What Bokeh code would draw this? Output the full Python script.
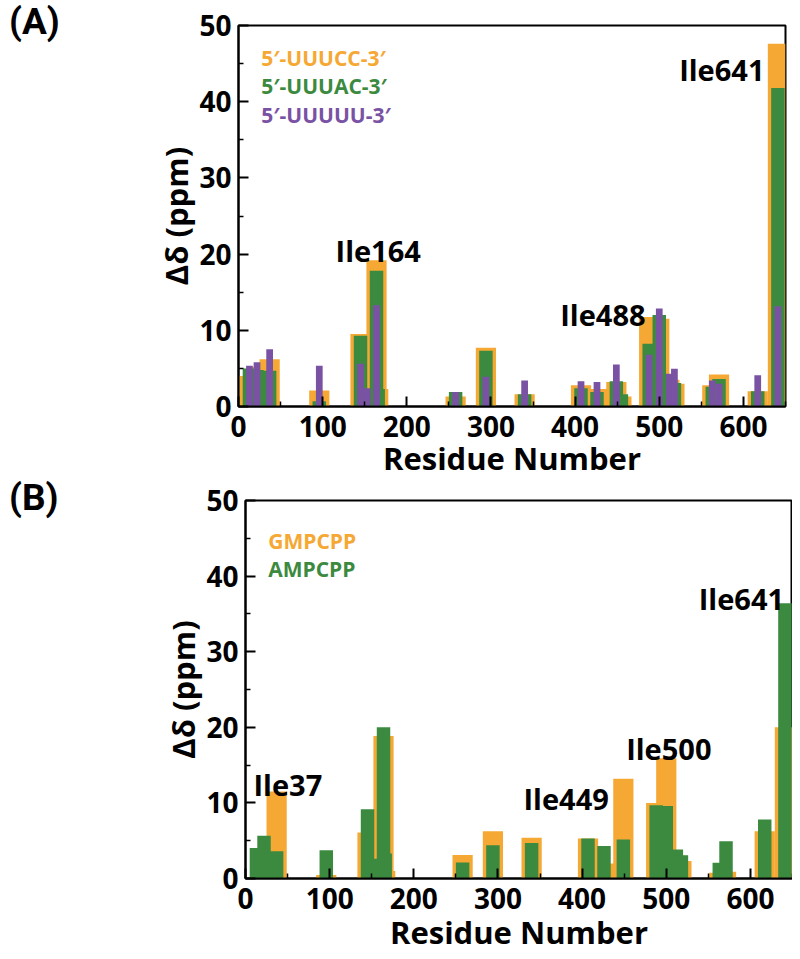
from bokeh.plotting import figure
from bokeh.models import FixedTicker, Range1d, Div
from bokeh.layouts import column, row
from bokeh.embed import file_html
from bokeh.resources import INLINE
from bokeh.core.properties import value

# ---------------- data ----------------
# Panel (A): RNA binding
residues_a = [13, 22, 37, 96, 145, 153, 164, 166, 258, 294, 340, 407, 426, 449, 455,
              488, 500, 512, 518, 563, 571, 617, 641]
uuucc = [4.0, 5.2, 6.2, 2.1, 9.5, 2.0, 19.2, 2.3, 1.3, 7.7, 1.6, 2.8, 2.3, 3.2, 1.3,
         11.75, 11.5, 3.5, 3.0, 2.8, 4.2, 2.0, 47.6]
uuuac = [5.0, 4.8, 4.7, 0.7, 9.3, 2.0, 17.8, 2.3, 1.9, 7.3, 1.6, 2.4, 1.9, 3.3, 1.6,
         8.25, 12.0, 3.3, 3.07, 2.6, 3.6, 2.0, 41.8]
uuuuu = [5.35, 5.8, 7.5, 5.35, 5.6, 2.4, 13.3, 0.0, 1.9, 3.9, 3.4, 3.3, 3.2, 5.5, 0.0,
         6.8, 12.85, 4.3, 4.95, 3.4, 3.0, 4.1, 13.15]

# Panel (B): nucleotide binding
residues_b = [13, 22, 37, 96, 145, 153, 164, 166, 258, 294, 340, 407, 426, 449,
              488, 500, 512, 518, 563, 571, 617, 641]
gmpcpp = [0.0, 0.0, 11.5, 0.45, 6.1, 1.5, 18.85, 1.0, 3.1, 6.25, 5.4, 5.3, 2.0, 13.2,
          10.0, 15.9, 3.0, 2.3, 0.75, 0.9, 6.25, 20.0]
ampcpp = [4.05, 5.64, 3.6, 3.75, 9.16, 2.6, 20.0, 3.3, 2.1, 4.4, 4.7, 5.3, 4.3, 5.15,
          9.7, 9.6, 3.85, 3.08, 2.07, 4.93, 7.8, 36.4]

legend_a = ["5\u2032-UUUCC-3\u2032", "5\u2032-UUUAC-3\u2032", "5\u2032-UUUUU-3\u2032"]
legend_b = ["GMPCPP", "AMPCPP"]

x_ticks = [0, 100, 200, 300, 400, 500, 600]
x_minor = [50, 150, 250, 350, 450, 550, 650]
y_ticks = [0, 10, 20, 30, 40, 50]
y_minor = [5, 15, 25, 35, 45]

ORANGE = "#F5A833"
GREEN = "#3C8A40"
PURPLE = "#7A52A3"
FONT = "Open Sans"
DIV_W = 70


def base_panel(min_left, min_top, frame_h, tick_standoff, label_standoff, min_right):
    p = figure(frame_width=547, frame_height=frame_h,
               x_range=Range1d(0, 650), y_range=Range1d(0, 50),
               output_backend="svg", toolbar_location=None,
               min_border_left=min_left, min_border_right=min_right,
               min_border_top=min_top, min_border_bottom=20,
               background_fill_color="white", border_fill_color="white")
    p.xgrid.visible = False
    p.ygrid.visible = False
    p.outline_line_color = "black"
    p.outline_line_width = 2
    p.outline_line_alpha = 1.0
    p.xaxis.ticker = FixedTicker(ticks=x_ticks, minor_ticks=x_minor)
    p.yaxis.ticker = FixedTicker(ticks=y_ticks, minor_ticks=y_minor)
    for ax in (p.xaxis[0], p.yaxis[0]):
        ax.axis_line_width = 2
        ax.axis_line_color = "black"
        ax.major_tick_in = 10
        ax.major_tick_out = 0
        ax.minor_tick_in = 5
        ax.minor_tick_out = 0
        ax.major_tick_line_width = 2
        ax.minor_tick_line_width = 1.5
        ax.major_label_text_font = FONT
        ax.major_label_text_font_style = "bold"
        ax.major_label_text_font_size = "28px"
        ax.major_label_text_color = "black"
        ax.axis_label_text_font = FONT
        ax.axis_label_text_font_style = "bold"
        ax.axis_label_text_font_size = "31px"
        ax.axis_label_text_color = "black"
    p.xaxis.axis_label = "Residue Number"
    p.yaxis.axis_label = "\u0394\u03b4 (ppm)"
    p.xaxis.major_label_standoff = tick_standoff
    p.yaxis.major_label_standoff = 7
    p.xaxis.axis_label_standoff = label_standoff
    p.yaxis.axis_label_standoff = -1
    return p


def panel_tag(text, line_h):
    html = ("<div style=\"font-family:Roboto;font-weight:700;font-size:37px;"
            "line-height:%dpx;color:black;margin:0;padding:0 0 0 9px;\">%s</div>"
            % (line_h, text))
    return Div(text=html, width=DIV_W, height=50, margin=0)


# ---------------- panel A ----------------
pa = base_panel(238 - DIV_W, 25, 381, 9, -3, 2)
pa.vbar(x=residues_a, width=24, top=uuucc, bottom=0, fill_color=ORANGE, line_color=None)
pa.vbar(x=residues_a, width=16, top=uuuac, bottom=0, fill_color=GREEN, line_color=None)
pa.vbar(x=residues_a, width=8, top=uuuuu, bottom=0, fill_color=PURPLE, line_color=None)

pa.text(x=[27, 27, 27], y=[45.7, 42.0, 38.3], text=legend_a,
        text_color=[ORANGE, GREEN, PURPLE], text_font=value(FONT),
        text_font_style="bold", text_font_size="21px",
        text_align="left", text_baseline="alphabetic")
pa.text(x=[625, 166, 433], y=[44.2, 20.5, 12.1], text=["Ile641", "Ile164", "Ile488"],
        text_align=["right", "center", "center"], text_color="black",
        text_font=value(FONT), text_font_style="bold", text_font_size="29px",
        text_baseline="alphabetic")

# ---------------- panel B ----------------
pb = base_panel(245 - DIV_W, 19, 378, 9, -1, 0)
pb.vbar(x=residues_b, width=24, top=gmpcpp, bottom=0, fill_color=ORANGE, line_color=None)
pb.vbar(x=residues_b, width=16, top=ampcpp, bottom=0, fill_color=GREEN, line_color=None)

pb.text(x=[27, 27], y=[44.65, 40.95], text=legend_b,
        text_color=[ORANGE, GREEN], text_font=value(FONT),
        text_font_style="bold", text_font_size="21px",
        text_align="left", text_baseline="alphabetic")
pb.text(x=[9.5, 381, 503, 640], y=[12.45, 10.6, 17.2, 37.1],
        text=["Ile37", "Ile449", "Ile500", "Ile641"],
        text_align=["left", "center", "center", "right"], text_color="black",
        text_font=value(FONT), text_font_style="bold", text_font_size="29px",
        text_baseline="alphabetic")

layout = column(row(panel_tag("(A)", 44), pa, spacing=0),
                row(panel_tag("(B)", 33), pb, spacing=0), spacing=0)
open("out.html", "w").write(file_html(layout, INLINE))
